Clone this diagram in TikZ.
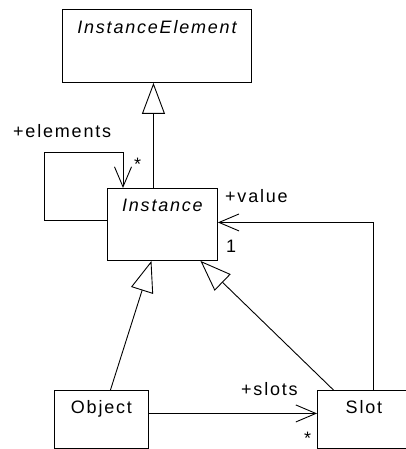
\documentclass[tikz,border=0pt]{standalone}
\usepackage{fontspec}
\setmainfont{Liberation Sans}[LetterSpace=10]
\usetikzlibrary{arrows.meta}
\tikzset{
  every picture/.style={x=1pt,y=-1pt},
  cls/.style={draw, line width=0.9pt, rectangle, inner xsep=0pt, inner ysep=0pt, anchor=north west,
    font=\fontsize{18}{20}\selectfont},
  gen/.style={draw, line width=0.9pt, -{Triangle[open, length=31pt, width=23pt, line width=0.9pt]}},
  assoc/.style={draw, line width=0.9pt, -{Straight Barb[length=20pt, width=17pt, line width=0.9pt]}},
  lbl/.style={inner sep=0pt, anchor=base west, font=\fontsize{18}{20}\selectfont},
}
\begin{document}
\begin{tikzpicture}
\useasboundingbox (0,0) rectangle (406,449);
\node[cls, minimum width=189pt, text height=24pt, text depth=49pt] (ie) at (62,9) {\itshape InstanceElement};
\node[cls, minimum width=110pt, text height=23pt, text depth=49pt] (inst) at (107,188) {\itshape Instance};
\node[cls, minimum width=94pt, text height=23pt, text depth=35pt] (obj) at (54,390) {Object};
\node[cls, minimum width=93pt, text height=23pt, text depth=35pt] (slot) at (317,390) {Slot};

\draw[gen] ([xshift=-9pt]inst.north) -- ([xshift=-3.5pt]ie.south);
\draw[gen] ([xshift=9pt]obj.north) -- ([xshift=-11pt]inst.south);
\draw[gen] ([xshift=-30.5pt]slot.north) -- ([xshift=38pt]inst.south);

\draw[assoc] ([yshift=4pt]inst.west) -| (44,152) -| ([xshift=16pt]inst.north west);
\draw[assoc] ([xshift=9.5pt]slot.north) |- ([yshift=2pt]inst.east);
\draw[assoc] ([yshift=6pt]obj.east) -- ([yshift=6pt]slot.west);

\node[lbl] (lelem) at (13,138) {+elements};
\node[lbl] (lstar1) at (134,170) {*};
\node[lbl] (lval) at (225,202) {+value};
\node[lbl] (lone) at (226,252) {1};
\node[lbl] (lslots) at (241,395) {+slots};
\node[lbl] (lstar2) at (304,444) {*};
\end{tikzpicture}
\end{document}
